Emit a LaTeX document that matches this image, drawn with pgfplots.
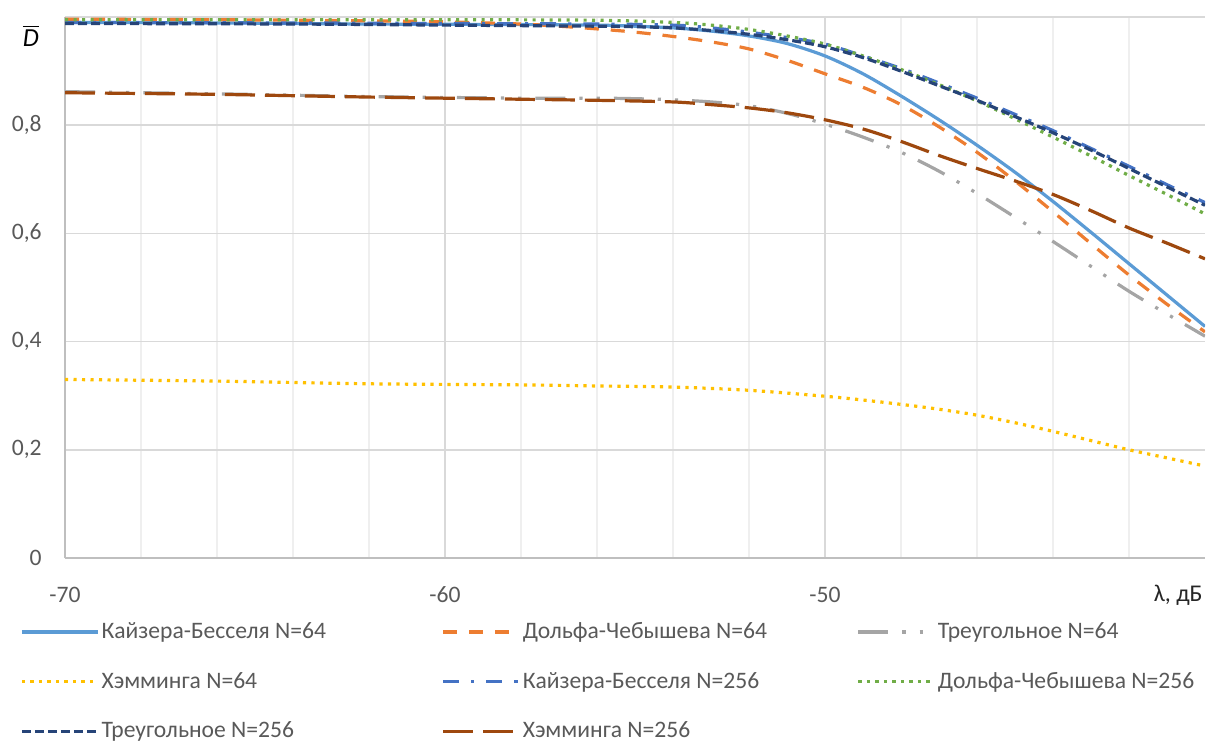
\documentclass[border=0pt]{standalone}
\usepackage{pgfplots}
\pgfplotsset{compat=1.18}
\usepackage{fontspec}
\setmainfont{Carlito}
\definecolor{kb64}{HTML}{5B9BD5}
\definecolor{dc64}{HTML}{ED7D31}
\definecolor{tr64}{HTML}{A5A5A5}
\definecolor{hm64}{HTML}{FFC000}
\definecolor{kb256}{HTML}{4472C4}
\definecolor{dc256}{HTML}{70AD47}
\definecolor{tr256}{HTML}{264478}
\definecolor{hm256}{HTML}{9E480E}
\definecolor{txt}{HTML}{595959}
\definecolor{majg}{HTML}{D9D9D9}
\definecolor{ming}{HTML}{EFEFEF}
\definecolor{axg}{HTML}{BFBFBF}
\newcommand{\ca}[1]{\makebox[169pt][l]{#1}}
\newcommand{\cb}[1]{\makebox[166pt][l]{#1}}
\begin{document}
\begin{tikzpicture}
\begin{axis}[
  name=ax,
  scale only axis,
  width=570pt, height=270.5pt,
  xmin=-70, xmax=-40, ymin=0, ymax=1,
  axis lines=left,
  axis line style={-, color=axg, line width=0.8pt},
  every inner x axis line/.append style={-},
  every inner y axis line/.append style={-},
  every outer x axis line/.append style={-},
  every outer y axis line/.append style={-},
  xtick={-70,-60,-50},
  xticklabels={-70,-60,-50},
  minor xtick={-68,-66,-64,-62,-58,-56,-54,-52,-48,-46,-44,-42},
  ytick={0,0.2,0.4,0.6,0.8,1},
  yticklabels={0,{0,2},{0,4},{0,6},{0,8},{}},
  major tick length=0pt, minor tick length=0pt,
  grid=both,
  major grid style={color=majg, line width=0.8pt},
  minor grid style={color=ming, line width=0.8pt},
  ticklabel style={font=\fontsize{11.8}{13}\selectfont, text=txt, inner sep=0pt},
  xticklabel style={anchor=center, yshift=-18.5pt},
  yticklabel style={anchor=east, xshift=-11.5pt},
  xlabel={λ, дБ},
  ylabel={$\overline{\mbox{\itshape D}}$},
  every axis x label/.style={at={(axis description cs:1,0)}, anchor=east, inner sep=0pt, xshift=-1pt, yshift=-18.5pt, font=\fontsize{12}{14}\selectfont, text=black!85},
  every axis y label/.style={at={(axis description cs:-0.030,0.965)}, anchor=center, font=\fontsize{13}{15}\selectfont, text=black},
  legend columns=3,
  legend cell align=left,
  legend image code/.code={\draw[#1] (0pt,0pt) -- (38pt,0pt);},
  legend style={draw=none, fill=none, inner sep=0pt,
    at={(axis description cs:-0.0395,0)}, anchor=north west, yshift=-31pt,
    font=\fontsize{11.8}{13}\selectfont, text=txt,
    nodes={inner sep=1pt},
    column sep=0pt, row sep=13.3pt},
]
\addplot[kb64, line width=1.6pt, smooth] coordinates {
(-70,0.990) (-66,0.989) (-62,0.987) (-58,0.986) (-56,0.985) (-55,0.983) (-54,0.980) (-53,0.974) (-52,0.965) (-51,0.951) (-50,0.928) (-49,0.895) (-48,0.854) (-47,0.810) (-46,0.763) (-45,0.713) (-44,0.659) (-43,0.602) (-42,0.544) (-41,0.486) (-40,0.428)};
\addlegendentry{\ca{Кайзера-Бесселя N=64}}
\addplot[dc64, line width=1.6pt, dash pattern=on 7pt off 6pt, smooth] coordinates {
(-70,0.996) (-66,0.995) (-62,0.993) (-60,0.991) (-58,0.987) (-57,0.983) (-56,0.978) (-55,0.972) (-54,0.964) (-53,0.954) (-52,0.941) (-51,0.920) (-50,0.895) (-49,0.870) (-48,0.838) (-47,0.797) (-46,0.750) (-45,0.697) (-44,0.640) (-43,0.581) (-42,0.523) (-41,0.469) (-40,0.418)};
\addlegendentry{\cb{Дольфа-Чебышева N=64}}
\addplot[tr64, line width=1.6pt, dash pattern=on 15pt off 7pt on 1.6pt off 7pt on 1.6pt off 7pt, smooth] coordinates {
(-70,0.862) (-66,0.858) (-62,0.853) (-58,0.850) (-56,0.850) (-55,0.849) (-54,0.847) (-53,0.843) (-52,0.836) (-51,0.822) (-50,0.802) (-49,0.778) (-48,0.750) (-47,0.715) (-46,0.674) (-45,0.630) (-44,0.585) (-43,0.539) (-42,0.493) (-41,0.451) (-40,0.410)};
\addlegendentry{Треугольное N=64}
\addplot[hm64, line width=1.6pt, dash pattern=on 1.6pt off 2.65pt, smooth] coordinates {
(-70,0.330) (-66,0.327) (-62,0.322) (-58,0.320) (-56,0.318) (-54,0.316) (-52,0.310) (-50,0.299) (-49,0.292) (-48,0.284) (-47,0.275) (-46,0.264) (-45,0.250) (-44,0.234) (-43,0.217) (-42,0.200) (-41,0.185) (-40,0.170)};
\addlegendentry{\ca{Хэмминга N=64}}
\addplot[kb256, line width=1.6pt, dash pattern=on 8pt off 6pt on 1.6pt off 6pt, smooth] coordinates {
(-70,0.990) (-64,0.989) (-60,0.988) (-56,0.987) (-54,0.985) (-53,0.980) (-52,0.972) (-51,0.962) (-50,0.950) (-49,0.928) (-48,0.905) (-47,0.878) (-46,0.850) (-45,0.820) (-44,0.790) (-43,0.757) (-42,0.724) (-41,0.690) (-40,0.657)};
\addlegendentry{\cb{Кайзера-Бесселя N=256}}
\addplot[dc256, line width=1.6pt, dash pattern=on 1.6pt off 2.65pt, smooth] coordinates {
(-70,0.995) (-64,0.995) (-60,0.995) (-56,0.994) (-54,0.990) (-53,0.985) (-52,0.977) (-51,0.965) (-50,0.950) (-49,0.928) (-48,0.903) (-47,0.875) (-46,0.845) (-45,0.812) (-44,0.778) (-43,0.743) (-42,0.707) (-41,0.672) (-40,0.636)};
\addlegendentry{Дольфа-Чебышева N=256}
\addplot[tr256, line width=1.6pt, dash pattern=on 4.5pt off 2pt, smooth] coordinates {
(-70,0.988) (-64,0.987) (-60,0.985) (-56,0.983) (-55,0.982) (-54,0.980) (-53,0.975) (-52,0.968) (-51,0.958) (-50,0.945) (-49,0.925) (-48,0.900) (-47,0.873) (-46,0.846) (-45,0.816) (-44,0.786) (-43,0.754) (-42,0.720) (-41,0.686) (-40,0.652)};
\addlegendentry{\ca{Треугольное N=256}}
\addplot[hm256, line width=1.6pt, dash pattern=on 15pt off 5pt, smooth] coordinates {
(-70,0.860) (-66,0.857) (-62,0.852) (-58,0.848) (-56,0.846) (-54,0.843) (-53,0.838) (-52,0.832) (-51,0.823) (-50,0.810) (-49,0.793) (-48,0.770) (-47,0.744) (-46,0.720) (-45,0.697) (-44,0.672) (-43,0.642) (-42,0.610) (-41,0.582) (-40,0.553)};
\addlegendentry{\cb{Хэмминга N=256}}
\end{axis}
\pgfresetboundingbox
\path[use as bounding box] ([xshift=-32.5pt,yshift=-93pt]ax.south west) rectangle ([xshift=1pt,yshift=8.5pt]ax.north east);
\end{tikzpicture}
\end{document}
